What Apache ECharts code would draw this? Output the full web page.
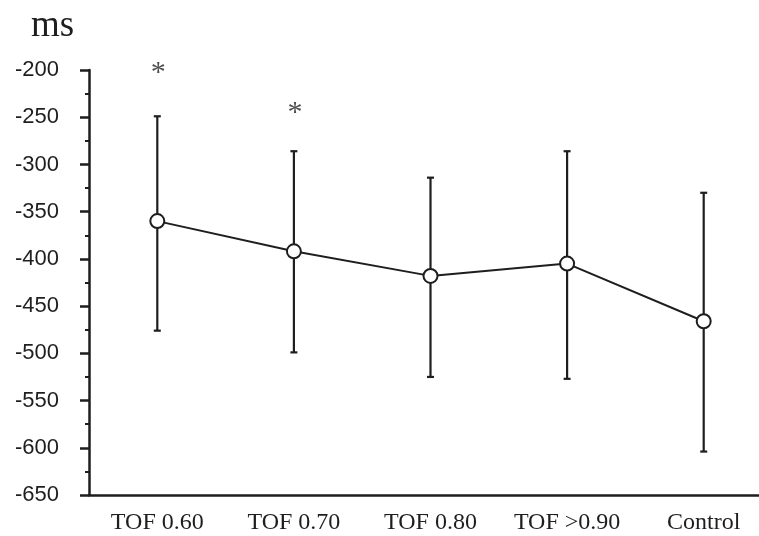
<!DOCTYPE html>
<html><head><meta charset="utf-8">
<script src="https://cdn.jsdelivr.net/npm/echarts@6/dist/echarts.min.js"></script>
<style>html,body{margin:0;padding:0;background:#fff}#c{width:759px;height:536px}</style>
</head><body><div id="c"></div>
<script>
const categories = ['TOF 0.60', 'TOF 0.70', 'TOF 0.80', 'TOF >0.90', 'Control'];
const means = [-360, -392, -418, -405, -466];
const upper = [-249, -286, -314, -286, -330];
const lower = [-476, -499, -525, -527, -604];
const asteriskValues = [-200, -242, null, null, null];
const yTicks = { min: -650, max: -200, step: 50 };

const ink = '#1e1e1e';
const chart = echarts.init(document.getElementById('c'), null, { renderer: 'canvas' });

const errData = categories.map((c, i) => [i, lower[i], upper[i]]);
const starData = asteriskValues.map((v, i) => v === null ? null : [i, v]).filter(d => d);

chart.setOption({
  animation: false,
  backgroundColor: '#fff',
  title: {
    text: 'ms', left: 26, top: 3,
    textStyle: { fontFamily: 'Liberation Serif', fontSize: 37, fontWeight: 'normal', color: ink }
  },
  grid: { left: 89, top: 70, bottom: 41, right: -13, containLabel: false, outerBoundsMode: 'none' },
  xAxis: {
    type: 'category', data: categories, boundaryGap: true,
    axisLine: { lineStyle: { color: ink, width: 2.5 } },
    axisTick: { show: false },
    axisLabel: { color: ink, fontFamily: 'Liberation Serif', fontSize: 24, margin: 16, interval: 0 },
    splitLine: { show: false }
  },
  yAxis: {
    type: 'value', min: yTicks.min, max: yTicks.max, interval: yTicks.step,
    axisLine: { show: true, lineStyle: { color: ink, width: 2.5 } },
    axisTick: { show: true, length: 9, lineStyle: { color: ink, width: 2.5 } },
    minorTick: { show: true, splitNumber: 2, length: 4, lineStyle: { color: ink, width: 2 } },
    axisLabel: { color: ink, fontFamily: 'Liberation Sans', fontSize: 22, margin: 30 },
    splitLine: { show: false }
  },
  series: [
    {
      type: 'custom', z: 1,
      data: errData,
      renderItem: function (params, api) {
        const x = api.value(0);
        const lo = api.coord([x, api.value(1)]);
        const hi = api.coord([x, api.value(2)]);
        const cap = 3.5;
        const st = { stroke: ink, lineWidth: 2.2 };
        return {
          type: 'group',
          children: [
            { type: 'line', shape: { x1: lo[0], y1: lo[1], x2: hi[0], y2: hi[1] }, style: st },
            { type: 'line', shape: { x1: hi[0] - cap, y1: hi[1], x2: hi[0] + cap, y2: hi[1] }, style: st },
            { type: 'line', shape: { x1: lo[0] - cap, y1: lo[1], x2: lo[0] + cap, y2: lo[1] }, style: st }
          ]
        };
      }
    },
    {
      type: 'line', z: 3, data: means,
      symbol: 'circle', symbolSize: 14,
      lineStyle: { color: ink, width: 2 },
      itemStyle: { color: '#fff', borderColor: ink, borderWidth: 2 }
    },
    {
      type: 'scatter', z: 4, data: starData,
      symbolSize: 0,
      label: {
        show: true, position: 'inside', formatter: '*', offset: [1, 3],
        color: ink, fontFamily: 'Liberation Serif', fontSize: 30
      }
    }
  ]
});
</script>
</body></html>
